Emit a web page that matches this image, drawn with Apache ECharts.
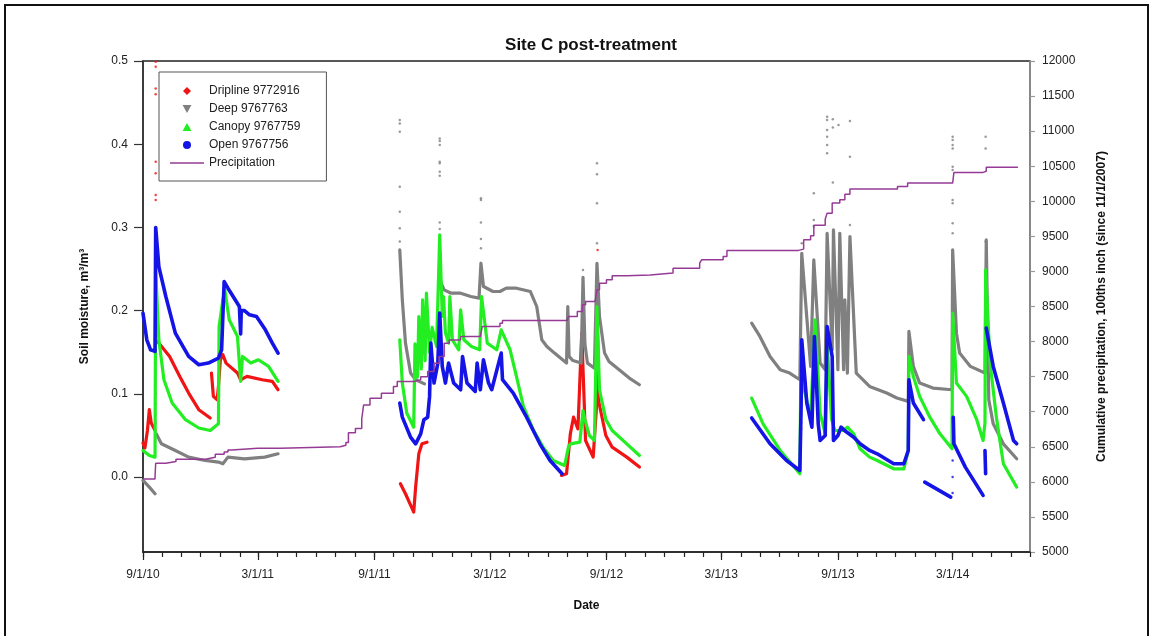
<!DOCTYPE html>
<html>
<head>
<meta charset="utf-8">
<title>Site C post-treatment</title>
<script src="https://cdn.jsdelivr.net/npm/echarts@6/dist/echarts.min.js"></script>
<style>
  html, body { margin: 0; padding: 0; background: #fff; }
  #main { width: 1153px; height: 636px; }
</style>
</head>
<body>
<div id="main"></div>
<script>
// ---- data (date, value) ----
// soil moisture, m3/m3 ; each inner array is one unbroken run of readings
const driplineRuns = [
  [['2010-09-01',0.041],['2010-09-04',0.035],['2010-09-08',0.056],['2010-09-11',0.081],['2010-09-14',0.065],['2010-09-20',0.056]],
  [['2010-09-24',0.163],['2010-10-13',0.145],['2010-10-29',0.121],['2010-11-12',0.101],['2010-11-28',0.081],['2010-12-16',0.071]],
  [['2010-12-18',0.125],['2010-12-21',0.097],['2010-12-27',0.093],['2010-12-29',0.109],['2011-01-01',0.141],['2011-01-05',0.147],['2011-01-10',0.137],['2011-01-28',0.125],['2011-02-02',0.117],['2011-02-12',0.121],['2011-03-08',0.117],['2011-03-24',0.115],['2011-04-02',0.105]],
  [['2011-10-12',-0.008],['2011-10-20',-0.020],['2011-11-02',-0.042],['2011-11-05',-0.012],['2011-11-10',0.028],['2011-11-15',0.040],['2011-11-23',0.042]],
  [['2012-06-22',0.002],['2012-06-30',0.004],['2012-07-06',0.052],['2012-07-11',0.072],['2012-07-18',0.058],['2012-07-24',0.173],['2012-07-30',0.044],['2012-08-11',0.024],['2012-08-16',0.081],['2012-08-18',0.170],['2012-08-20',0.090],['2012-08-31',0.050],['2012-09-10',0.036],['2012-10-03',0.024],['2012-10-23',0.012]]
];
const driplineDots = [
  ['2010-09-21',0.499],['2010-09-21',0.493],['2010-09-21',0.467],['2010-09-21',0.460],['2010-09-21',0.379],['2010-09-21',0.365],
  ['2010-09-21',0.339],['2010-09-21',0.333],['2010-09-21',0.200],['2012-07-25',0.197],['2012-07-25',0.183],['2012-08-18',0.273],['2012-08-18',0.197]
];

const deepRuns = [
  [['2010-09-01',-0.004],['2010-09-11',-0.012],['2010-09-20',-0.020]],
  [['2010-09-22',0.052],['2010-09-30',0.040],['2010-10-22',0.032],['2010-11-12',0.024],['2010-12-08',0.020],['2010-12-29',0.018],['2011-01-05',0.016],['2011-01-13',0.024],['2011-02-08',0.022],['2011-03-12',0.024],['2011-04-02',0.028]],
  [['2011-10-11',0.273],['2011-10-15',0.213],['2011-10-20',0.161],['2011-10-28',0.125],['2011-11-05',0.117],['2011-11-19',0.112]],
  [['2011-12-13',0.270],['2011-12-14',0.235],['2011-12-20',0.225],['2011-12-31',0.221],['2012-01-15',0.221],['2012-01-31',0.217],['2012-02-13',0.215],['2012-02-16',0.257],['2012-02-20',0.229],['2012-03-06',0.223],['2012-03-17',0.223],['2012-03-27',0.227],['2012-04-12',0.227],['2012-05-04',0.223],['2012-05-14',0.205],['2012-05-22',0.165],['2012-05-30',0.157],['2012-06-11',0.149],['2012-06-30',0.137],['2012-07-02',0.205],['2012-07-04',0.145],['2012-07-10',0.140],['2012-07-23',0.137],['2012-07-26',0.240],['2012-07-29',0.160],['2012-08-02',0.137],['2012-08-13',0.131],['2012-08-17',0.257],['2012-08-21',0.193],['2012-08-29',0.149],['2012-09-05',0.139],['2012-09-21',0.129],['2012-10-07',0.119],['2012-10-23',0.111]],
  [['2013-04-18',0.185],['2013-05-01',0.169],['2013-05-17',0.145],['2013-06-02',0.129],['2013-06-17',0.125],['2013-07-03',0.117],['2013-07-06',0.269],['2013-07-20',0.133],['2013-07-25',0.261],['2013-08-04',0.137],['2013-08-12',0.129],['2013-08-15',0.293],['2013-08-23',0.153],['2013-08-25',0.297],['2013-09-01',0.129],['2013-09-04',0.293],['2013-09-10',0.129],['2013-09-12',0.213],['2013-09-16',0.125],['2013-09-20',0.289],['2013-09-30',0.125],['2013-10-21',0.109],['2013-11-17',0.101],['2013-12-03',0.095],['2013-12-21',0.091],['2013-12-22',0.175],['2013-12-29',0.133],['2014-01-08',0.113],['2014-01-29',0.107],['2014-02-28',0.105],['2014-03-01',0.273],['2014-03-07',0.173],['2014-03-12',0.149],['2014-03-29',0.133],['2014-04-21',0.125],['2014-04-23',0.285],['2014-04-27',0.093],['2014-05-04',0.064],['2014-05-20',0.040],['2014-06-10',0.022]]
];
const deepDots = [
  ['2010-09-21',0.125],['2010-09-21',0.112],['2010-09-21',0.100],['2010-09-21',0.088],['2010-09-21',0.075],['2010-09-21',0.065],
  ['2011-10-11',0.429],['2011-10-11',0.425],['2011-10-11',0.415],['2011-10-11',0.349],['2011-10-11',0.319],['2011-10-11',0.299],['2011-10-11',0.283],
  ['2011-12-13',0.407],['2011-12-13',0.404],['2011-12-13',0.399],['2011-12-13',0.379],['2011-12-13',0.377],['2011-12-13',0.367],['2011-12-13',0.362],['2011-12-13',0.306],['2011-12-13',0.298],
  ['2012-02-16',0.335],['2012-02-16',0.333],['2012-02-16',0.306],['2012-02-16',0.286],['2012-02-16',0.275],
  ['2012-07-26',0.249],['2012-08-17',0.377],['2012-08-17',0.364],['2012-08-17',0.329],['2012-08-17',0.281],
  ['2013-07-06',0.281],['2013-07-25',0.341],['2013-07-25',0.309],['2013-07-25',0.301],
  ['2013-08-15',0.433],['2013-08-15',0.429],['2013-08-15',0.417],['2013-08-15',0.409],['2013-08-15',0.399],['2013-08-15',0.389],
  ['2013-08-24',0.430],['2013-08-24',0.420],['2013-08-24',0.354],['2013-09-02',0.423],['2013-09-04',0.293],
  ['2013-09-20',0.428],['2013-09-20',0.385],['2013-09-20',0.303],
  ['2014-03-01',0.409],['2014-03-01',0.405],['2014-03-01',0.399],['2014-03-01',0.395],['2014-03-01',0.373],['2014-03-01',0.369],['2014-03-01',0.333],['2014-03-01',0.329],['2014-03-01',0.305],['2014-03-01',0.293],
  ['2014-04-22',0.409],['2014-04-22',0.395],['2014-04-22',0.283]
];

const canopyRuns = [
  [['2010-09-01',0.032],['2010-09-11',0.026],['2010-09-20',0.024],['2010-09-21',0.249],['2010-09-26',0.165],['2010-10-04',0.117],['2010-10-17',0.089],['2010-11-07',0.069],['2010-11-28',0.059],['2010-12-16',0.056],['2010-12-29',0.064],['2010-12-30',0.181],['2011-01-05',0.213],['2011-01-08',0.225],['2011-01-15',0.189],['2011-01-28',0.169],['2011-02-02',0.115],['2011-02-05',0.145],['2011-02-18',0.137],['2011-03-02',0.141],['2011-03-18',0.133],['2011-04-02',0.115]],
  [['2011-10-11',0.165],['2011-10-15',0.113],['2011-10-22',0.077],['2011-11-02',0.060],['2011-11-04',0.160],['2011-11-08',0.120],['2011-11-10',0.193],['2011-11-14',0.130],['2011-11-16',0.213],['2011-11-20',0.140],['2011-11-22',0.221],['2011-11-27',0.150],['2011-12-01',0.180],['2011-12-08',0.157],['2011-12-13',0.291],['2011-12-17',0.193],['2011-12-19',0.217],['2011-12-22',0.173],['2011-12-27',0.161],['2011-12-29',0.217],['2012-01-02',0.165],['2012-01-12',0.153],['2012-01-15',0.201],['2012-01-20',0.165],['2012-02-01',0.157],['2012-02-14',0.153],['2012-02-17',0.217],['2012-02-26',0.161],['2012-03-12',0.153],['2012-03-19',0.177],['2012-04-02',0.153],['2012-04-12',0.121],['2012-04-23',0.085],['2012-05-09',0.056],['2012-05-24',0.036],['2012-06-09',0.020],['2012-06-27',0.014],['2012-07-03',0.036],['2012-07-06',0.040],['2012-07-21',0.042],['2012-07-26',0.080],['2012-07-29',0.069],['2012-08-05',0.050],['2012-08-13',0.044],['2012-08-17',0.205],['2012-08-21',0.105],['2012-08-31',0.069],['2012-09-10',0.056],['2012-10-03',0.040],['2012-10-23',0.026]],
  [['2013-04-18',0.095],['2013-05-06',0.064],['2013-06-02',0.032],['2013-07-03',0.004],['2013-07-05',0.157],['2013-07-10',0.105],['2013-07-20',0.072],['2013-07-27',0.189],['2013-08-04',0.077],['2013-08-12',0.052],['2013-08-15',0.160],['2013-08-22',0.070],['2013-08-27',0.056],['2013-09-10',0.056],['2013-09-16',0.060],['2013-09-26',0.052],['2013-10-06',0.034],['2013-10-21',0.024],['2013-11-02',0.020],['2013-11-28',0.010],['2013-12-14',0.010],['2013-12-21',0.032],['2013-12-22',0.145],['2013-12-29',0.121],['2014-01-08',0.097],['2014-01-24',0.072],['2014-02-09',0.052],['2014-02-28',0.034],['2014-03-01',0.197],['2014-03-07',0.113],['2014-03-23',0.097],['2014-04-08',0.069],['2014-04-18',0.044],['2014-04-21',0.065],['2014-04-22',0.249],['2014-04-29',0.137],['2014-05-09',0.072],['2014-05-20',0.016],['2014-06-10',-0.012]]
];

const openRuns = [
  [['2010-09-01',0.197],['2010-09-07',0.165],['2010-09-13',0.153],['2010-09-20',0.151],['2010-09-21',0.300],['2010-09-26',0.253],['2010-10-07',0.217],['2010-10-22',0.173],['2010-11-12',0.145],['2010-11-28',0.135],['2010-12-13',0.137],['2010-12-29',0.143],['2011-01-03',0.153],['2011-01-07',0.235],['2011-01-13',0.227],['2011-01-31',0.205],['2011-02-02',0.172],['2011-02-03',0.200],['2011-02-08',0.200],['2011-02-16',0.195],['2011-02-27',0.193],['2011-03-13',0.177],['2011-03-24',0.161],['2011-04-02',0.149]],
  [['2011-10-11',0.089],['2011-10-15',0.072],['2011-10-28',0.048],['2011-11-05',0.040],['2011-11-13',0.052],['2011-11-18',0.069],['2011-11-24',0.072],['2011-11-27',0.097],['2011-11-29',0.161],['2011-12-04',0.113],['2011-12-10',0.137],['2011-12-13',0.197],['2011-12-17',0.133],['2011-12-22',0.113],['2011-12-27',0.137],['2012-01-04',0.113],['2012-01-15',0.105],['2012-01-18',0.145],['2012-01-25',0.113],['2012-02-07',0.103],['2012-02-10',0.137],['2012-02-15',0.105],['2012-02-20',0.141],['2012-02-28',0.113],['2012-03-04',0.105],['2012-03-19',0.149],['2012-03-21',0.117],['2012-04-07',0.101],['2012-04-28',0.072],['2012-05-19',0.040],['2012-06-04',0.020],['2012-06-23',0.004]],
  [['2013-04-18',0.071],['2013-05-17',0.040],['2013-06-12',0.020],['2013-07-03',0.008],['2013-07-05',0.085],['2013-07-06',0.165],['2013-07-14',0.089],['2013-07-22',0.060],['2013-07-26',0.169],['2013-08-01',0.064],['2013-08-04',0.044],['2013-08-12',0.050],['2013-08-15',0.181],['2013-08-23',0.145],['2013-08-25',0.044],['2013-09-01',0.050],['2013-09-06',0.060],['2013-09-13',0.055],['2013-09-26',0.048],['2013-10-06',0.040],['2013-10-21',0.032],['2013-11-02',0.028],['2013-11-28',0.016],['2013-12-14',0.016],['2013-12-21',0.032],['2013-12-22',0.117],['2013-12-29',0.089],['2014-01-14',0.069]],
  [['2014-01-16',-0.006],['2014-02-26',-0.024]],
  [['2014-03-02',0.072],['2014-03-03',0.040],['2014-03-21',0.012],['2014-04-18',-0.022]],
  [['2014-04-21',0.032],['2014-04-22',0.004]],
  [['2014-04-23',0.179],['2014-05-04',0.133],['2014-05-20',0.089],['2014-06-05',0.044],['2014-06-10',0.040]]
];
const openDots = [
  ['2013-07-05',0.075],['2013-07-05',0.065],['2013-07-05',0.058],['2014-03-01',0.020],['2014-03-01',0.000],['2014-03-01',-0.019]
];

// cumulative precipitation, 100ths inch since 11/1/2007
const precipitation = [
  ['2010-09-01',6040],['2010-09-20',6075],['2010-09-21',6265],['2010-10-07',6290],['2010-10-23',6322],['2010-12-09',6337],['2010-12-16',6350],['2010-12-24',6395],['2011-01-07',6425],['2011-01-13',6455],['2011-01-19',6479],['2011-03-01',6480],['2011-04-06',6500],['2011-07-09',6522],['2011-07-18',6560],['2011-07-22',6700],['2011-08-02',6760],['2011-08-12',6900],['2011-08-15',7097],['2011-08-25',7192],['2011-09-12',7264],['2011-10-01',7358],['2011-10-07',7430],['2011-11-02',7454],['2011-11-13',7500],['2011-11-24',7572],['2011-12-04',7691],['2011-12-12',7786],['2011-12-20',7977],['2011-12-28',8024],['2012-01-15',8071],['2012-02-15',8095],['2012-02-18',8214],['2012-03-17',8262],['2012-03-21',8300],['2012-07-01',8300],['2012-07-03',8357],['2012-07-17',8428],['2012-07-25',8524],['2012-07-30',8571],['2012-08-14',8595],['2012-08-17',8738],['2012-08-21',8833],['2012-09-01',8880],['2012-09-10',8937],['2012-10-03',8950],['2012-11-09',8976],['2012-12-15',9047],['2013-01-26',9118],['2013-01-29',9166],['2013-03-04',9213],['2013-03-10',9300],['2013-07-01',9318],['2013-07-09',9450],['2013-07-20',9510],['2013-07-25',9660],['2013-08-12',9745],['2013-08-15',9831],['2013-08-23',9974],['2013-09-04',10021],['2013-09-12',10102],['2013-09-20',10174],['2013-11-15',10174],['2013-12-04',10212],['2013-12-20',10260],['2014-03-01',10284],['2014-03-03',10412],['2014-04-18',10427],['2014-04-23',10484],['2014-06-12',10484]
];

// axis ticks
const dateLabels = ['2010-09-01','2011-03-01','2011-09-01','2012-03-01','2012-09-01','2013-03-01','2013-09-01','2014-03-01'];
const moistureTicks = [0, 0.1, 0.2, 0.3, 0.4, 0.5];
const dateMin = '2010-09-01', dateMax = '2014-07-01';

const FONT = 'Liberation Sans, Arial, Helvetica, sans-serif';
const RED = '#f01414', GREY = '#808080', GREEN = '#22ee22', BLUE = '#1414e6', PURPLE = '#953b95';

const t = d => Date.parse(d);
const fmtDate = v => {
  const d = new Date(v);
  return (d.getUTCMonth() + 1) + '/' + d.getUTCDate() + '/' + String(d.getUTCFullYear()).slice(2);
};

// first of every month between the axis ends
const monthTicks = [];
for (let y = 2010, m = 8; y < 2014 || m <= 6; ) {
  monthTicks.push(Date.UTC(y, m, 1));
  m++;
  if (m > 11) { m = 0; y++; }
}

function runs(name, color, list, width) {
  return list.map(run => ({
    name: name, type: 'line',
    data: run.map(p => [t(p[0]), p[1]]),
    symbol: 'none', showSymbol: false,
    lineStyle: { color: color, width: width, cap: 'round', join: 'round' },
    itemStyle: { color: color }
  }));
}
function dots(name, color, list) {
  return {
    name: name, type: 'scatter',
    data: list.map(p => [t(p[0]), p[1]]),
    symbol: 'circle', symbolSize: 2.5,
    itemStyle: { color: color }
  };
}

const chart = echarts.init(document.getElementById('main'));

const axisText = { fontFamily: FONT, fontSize: 12, color: '#222' };
const nameText = { fontFamily: FONT, fontSize: 12, fontWeight: 'bold', color: '#111' };

const option = {
  animation: false,
  backgroundColor: '#fff',
  title: {
    text: 'Site C post-treatment',
    left: 586, top: 32, textAlign: 'center',
    textStyle: { fontFamily: FONT, fontSize: 17, fontWeight: 'bold', color: '#111' }
  },
  graphic: [{
    type: 'rect', x: 5, y: 5, silent: true, z: -10,
    shape: { x: 0, y: 0, width: 1143, height: 700 },
    style: { fill: 'none', stroke: '#111', lineWidth: 2 }
  }],
  grid: {
    left: 143, right: 123, top: 61, bottom: 84,
    show: true, borderColor: '#222', borderWidth: 1.5
  },
  legend: {
    orient: 'vertical', left: 159, top: 72,
    padding: [12, 26, 11, 11],
    borderColor: '#555', borderWidth: 1,
    itemWidth: 34, itemHeight: 8, itemGap: 4,
    selectedMode: false,
    itemStyle: { borderWidth: 0 },
    textStyle: { fontFamily: FONT, fontSize: 12, color: '#222', lineHeight: 14 },
    data: [
      { name: 'Dripline 9772916', icon: 'path://M5,0L10,5L5,10L0,5Z', itemStyle: { color: RED } },
      { name: 'Deep 9767763', icon: 'path://M0,0L10,0L5,9Z', itemStyle: { color: GREY } },
      { name: 'Canopy 9767759', icon: 'path://M5,0L10,9L0,9Z', itemStyle: { color: GREEN } },
      { name: 'Open 9767756', icon: 'circle', itemStyle: { color: BLUE } },
      { name: 'Precipitation', icon: 'path://M0,0H34V1.6H0Z', itemStyle: { color: PURPLE } }
    ]
  },
  xAxis: [{
    type: 'value', min: t(dateMin), max: t(dateMax), position: 'bottom',
    axisLine: { show: true, onZero: false, lineStyle: { color: '#222', width: 1.5 } },
    axisTick: { show: true, customValues: monthTicks, length: 5, lineStyle: { color: '#222', width: 1.2 } },
    axisLabel: { show: false },
    splitLine: { show: false }
  }, {
    type: 'value', min: t(dateMin), max: t(dateMax), position: 'bottom', offset: 0,
    name: 'Date', nameLocation: 'middle', nameGap: 48, nameTextStyle: nameText,
    axisLine: { show: false, onZero: false },
    axisTick: { show: true, customValues: dateLabels.map(t), length: 8, lineStyle: { color: '#222', width: 1.2 } },
    axisLabel: Object.assign({ customValues: dateLabels.map(t), formatter: fmtDate, margin: 17 }, axisText),
    splitLine: { show: false }
  }],
  yAxis: [{
    type: 'value', min: -0.09, max: 0.5, position: 'left',
    name: 'Soil moisture, m³/m³', nameLocation: 'middle', nameRotate: 90, nameGap: 52, nameTextStyle: nameText,
    axisLine: { show: true, onZero: false, lineStyle: { color: '#333', width: 1.5 } },
    axisTick: { show: true, customValues: moistureTicks, length: 9, lineStyle: { color: '#333', width: 1.2 } },
    axisLabel: Object.assign({ customValues: moistureTicks, formatter: v => v.toFixed(1), margin: 15 }, axisText),
    splitLine: { show: false }
  }, {
    type: 'value', min: 5000, max: 12000, interval: 500, position: 'right',
    name: 'Cumulative precipitation, 100ths inch (since 11/1/2007)', nameLocation: 'middle', nameRotate: 90, nameGap: 66, nameTextStyle: nameText,
    axisLine: { show: true, onZero: false, lineStyle: { color: '#999', width: 1.5 } },
    axisTick: { show: true, length: 5, lineStyle: { color: '#999', width: 1.2 } },
    axisLabel: Object.assign({ margin: 12, formatter: v => String(v) }, axisText),
    splitLine: { show: false }
  }],
  series: [].concat(
    runs('Dripline 9772916', RED, driplineRuns, 3.2),
    [dots('Dripline 9772916', RED, driplineDots)],
    runs('Deep 9767763', GREY, deepRuns, 3.2),
    [dots('Deep 9767763', GREY, deepDots)],
    runs('Canopy 9767759', GREEN, canopyRuns, 3.2),
    runs('Open 9767756', BLUE, openRuns, 3.6),
    [dots('Open 9767756', BLUE, openDots)],
    [{
      name: 'Precipitation', type: 'line', yAxisIndex: 1, step: 'end',
      data: precipitation.map(p => [t(p[0]), p[1]]),
      symbol: 'none', showSymbol: false,
      lineStyle: { color: PURPLE, width: 1.5 },
      itemStyle: { color: PURPLE }
    }]
  )
};

chart.setOption(option);
</script>
</body>
</html>
